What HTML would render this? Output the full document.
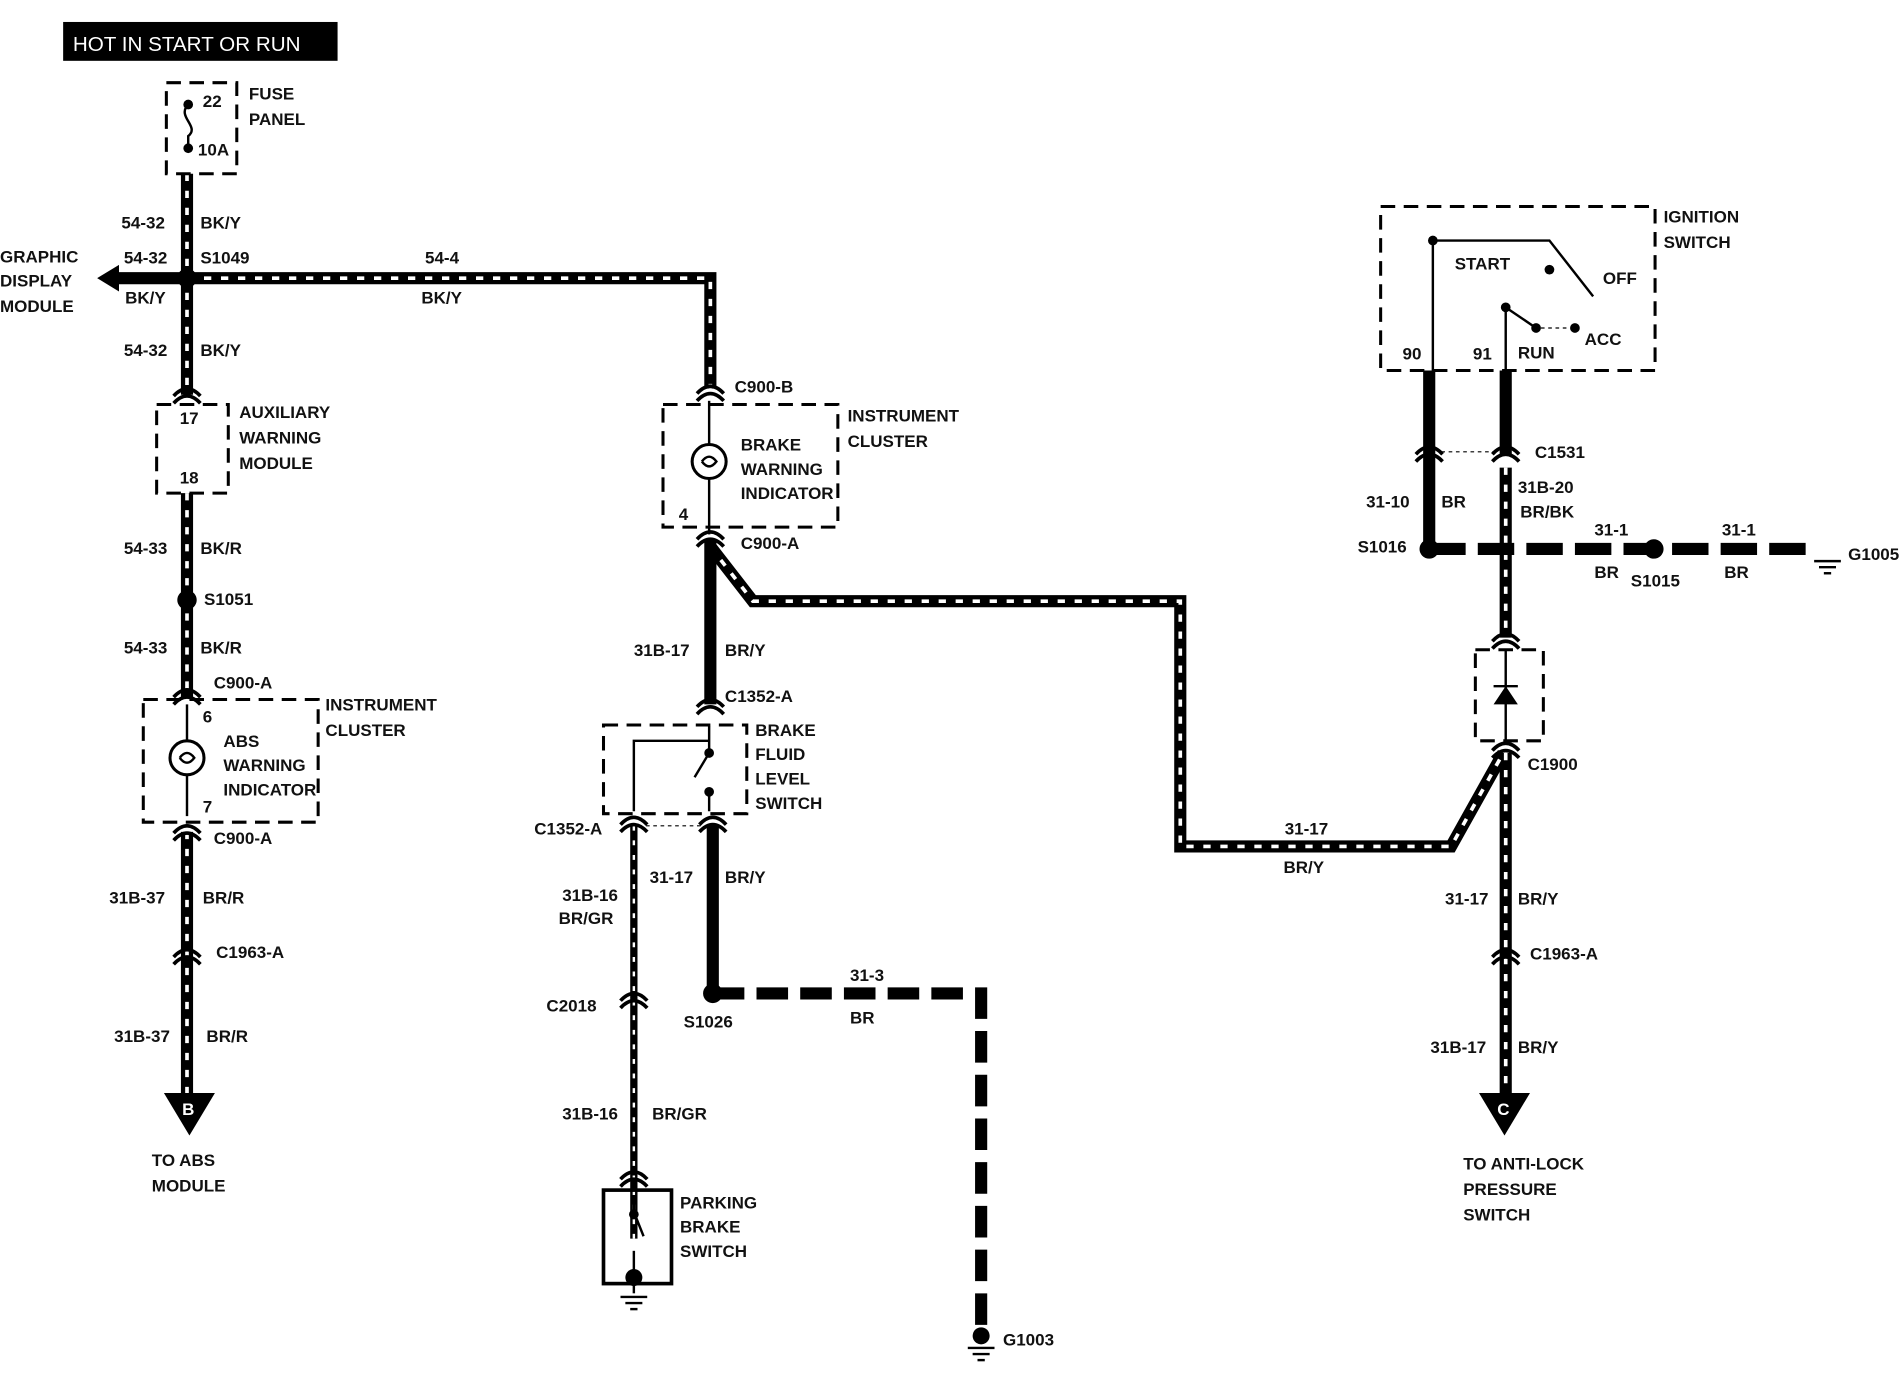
<!DOCTYPE html>
<html><head><meta charset="utf-8"><style>
html,body{margin:0;padding:0;background:#fff;}
svg{display:block;}
text{font-family:"Liberation Sans",sans-serif;font-weight:bold;font-size:14px;fill:#111;}
</style></head><body>
<svg width="1904" height="1376" viewBox="0 0 1568 1133" xmlns="http://www.w3.org/2000/svg">
<defs>
<g id="gnd"><line x1="-11" y1="0" x2="11" y2="0" stroke="#000" stroke-width="2"/><line x1="-7" y1="5" x2="7" y2="5" stroke="#000" stroke-width="2"/><line x1="-3" y1="10" x2="3" y2="10" stroke="#000" stroke-width="2"/></g>
<g id="con"><path d="M-11,6 Q0,-6 11,6" fill="none" stroke="#000" stroke-width="3"/><path d="M-11,12 Q0,0 11,12" fill="none" stroke="#000" stroke-width="3"/></g>
</defs>
<g fill="none">
<!-- striped wires -->
<g stroke="#000" stroke-width="10">
<path d="M154,143 V325"/><path d="M154,229 H585 V320"/><path d="M154,406 V575"/><path d="M154,685 V900"/>
<path d="M585,450 L620,495 H972 V697 H1195 L1238,620"/>
<path d="M1240,385 V525"/><path d="M1240,620 V900"/>
</g>
<g stroke="#000" stroke-width="6"><path d="M522,680 V1020"/></g>
<g stroke="#fff" stroke-width="3" stroke-dasharray="6 8">
<path d="M154,143 V325"/><path d="M154,229 H585 V320"/><path d="M154,406 V485"/><path d="M154,505 V575"/><path d="M154,685 V900"/>
<path d="M585,450 L620,495 H972 V697 H1195 L1238,620"/>
<path d="M1240,385 V525"/><path d="M1240,620 V900"/>
</g>
<g stroke="#fff" stroke-width="2" stroke-dasharray="4 8"><path d="M522,680 V1020"/></g>
<!-- solid wires -->
<g stroke="#000" stroke-width="10">
<path d="M585,445 V580"/><path d="M587,680 V818"/>
<path d="M1177,305 V452"/><path d="M1240,305 V375"/>
</g>
<path d="M587,818 H808 V1095" stroke="#000" stroke-width="10" stroke-dasharray="26 10"/>
<path d="M1177,452 H1495" stroke="#000" stroke-width="10" stroke-dasharray="30 10"/>
<!-- arrow left -->
<path d="M80,229 L98,218 L98,240 Z" fill="#000"/><line x1="95" y1="229" x2="150" y2="229" stroke="#000" stroke-width="10"/>
<!-- dashed boxes -->
<g stroke="#000" stroke-width="2.5" stroke-dasharray="12 7">
<rect x="137" y="68" width="58" height="75"/>
<rect x="129" y="333" width="59" height="73"/>
<rect x="118" y="576" width="144" height="101"/>
<rect x="546" y="333" width="144" height="101"/>
<rect x="497" y="597" width="118" height="73"/>
<rect x="1137" y="170" width="226" height="135"/>
<rect x="1215" y="535" width="56" height="75"/>
</g>
<rect x="497" y="980" width="56" height="77" stroke="#000" stroke-width="3"/>
<!-- fuse -->
<circle cx="155" cy="86" r="4" fill="#000"/><circle cx="155" cy="122" r="4" fill="#000"/>
<path d="M155,86 C145,96 165,104 155,112 L155,122" stroke="#000" stroke-width="2"/>
<!-- lamps -->
<circle cx="154" cy="624" r="14" stroke="#000" stroke-width="2.5"/><path d="M148,624 q6,-8 12,0 q-6,8 -12,0" stroke="#000" stroke-width="2"/>
<line x1="154" y1="580" x2="154" y2="610" stroke="#000" stroke-width="2"/><line x1="154" y1="638" x2="154" y2="672" stroke="#000" stroke-width="2"/>
<circle cx="584" cy="380" r="14" stroke="#000" stroke-width="2.5"/><path d="M578,380 q6,-8 12,0 q-6,8 -12,0" stroke="#000" stroke-width="2"/>
<line x1="584" y1="330" x2="584" y2="366" stroke="#000" stroke-width="2"/><line x1="584" y1="394" x2="584" y2="440" stroke="#000" stroke-width="2"/>
<!-- fluid switch -->
<g stroke="#000" stroke-width="2"><path d="M584,598 V620 L572,640"/><path d="M584,650 V668"/><path d="M584,610 H522 V668"/></g>
<circle cx="584" cy="620" r="4" fill="#000"/><circle cx="584" cy="652" r="4" fill="#000"/>
<line x1="532" y1="680" x2="577" y2="680" stroke="#000" stroke-dasharray="3 3"/>
<!-- parking switch -->
<g stroke="#000" stroke-width="2"><path d="M522,985 V998 L530,1018"/><path d="M522,1030 V1065"/></g>
<circle cx="522" cy="1000" r="4" fill="#000"/><circle cx="522" cy="1052" r="7" fill="#000"/>
<!-- ignition switch internals -->
<g stroke="#000" stroke-width="2"><path d="M1180,198 V305"/><path d="M1180,198 H1276 L1312,244"/><path d="M1240,253 V305"/><path d="M1240,253 L1265,270"/></g>
<circle cx="1180" cy="198" r="4" fill="#000"/><circle cx="1276" cy="222" r="4" fill="#000"/><circle cx="1240" cy="253" r="4" fill="#000"/>
<circle cx="1265" cy="270" r="4" fill="#000"/><circle cx="1297" cy="270" r="4" fill="#000"/>
<path d="M1269,270 H1293" stroke="#000" stroke-dasharray="3 3"/>
<line x1="1187" y1="372" x2="1230" y2="372" stroke="#000" stroke-dasharray="3 3"/>
<!-- diode -->
<g stroke="#000" stroke-width="2"><path d="M1240,535 V610"/><path d="M1230,565 H1250"/></g>
<path d="M1230,580 L1250,580 L1240,565 Z" fill="#000"/>
</g>
<!-- connectors -->
<use href="#con" x="154" y="320"/><use href="#con" x="154" y="568"/><use href="#con" x="154" y="680"/><use href="#con" x="154" y="782"/>
<use href="#con" x="585" y="318"/><use href="#con" x="585" y="438"/><use href="#con" x="585" y="576"/><use href="#con" x="522" y="673"/><use href="#con" x="587" y="673"/>
<use href="#con" x="522" y="818"/><use href="#con" x="522" y="965"/>
<use href="#con" x="1177" y="368"/><use href="#con" x="1240" y="368"/><use href="#con" x="1240" y="522"/><use href="#con" x="1240" y="612"/><use href="#con" x="1240" y="782"/>
<!-- dots -->
<g fill="#000"><circle cx="154" cy="229" r="8"/><circle cx="154" cy="494" r="8"/><circle cx="587" cy="818" r="8"/><circle cx="1177" cy="452" r="8"/><circle cx="1362" cy="452" r="8"/><circle cx="808" cy="1100" r="7"/></g>
<use href="#gnd" x="808" y="1110"/><use href="#gnd" x="1505" y="462"/><use href="#gnd" x="522" y="1068"/>
<!-- triangles -->
<path d="M135,900 L177,900 L156,935 Z" fill="#000"/><text x="150" y="918" style="fill:#fff">B</text>
<path d="M1218,900 L1260,900 L1239,935 Z" fill="#000"/><text x="1233" y="918" style="fill:#fff">C</text>
<!-- title -->
<rect x="52" y="18" width="226" height="32" fill="#000"/>
<text x="60" y="42" style="fill:#fff;font-size:17px;font-weight:normal">HOT IN START OR RUN</text>
<!-- labels -->
<text x="167" y="88">22</text><text x="163" y="128">10A</text>
<text x="205" y="82">FUSE</text><text x="205" y="103">PANEL</text>
<text x="100" y="188">54-32</text><text x="165" y="188">BK/Y</text>
<text x="0" y="216">GRAPHIC</text><text x="0" y="236">DISPLAY</text><text x="0" y="257">MODULE</text>
<text x="102" y="217">54-32</text><text x="165" y="217">S1049</text><text x="103" y="250">BK/Y</text>
<text x="350" y="217">54-4</text><text x="347" y="250">BK/Y</text>
<text x="102" y="293">54-32</text><text x="165" y="293">BK/Y</text>
<text x="148" y="349">17</text><text x="148" y="398">18</text>
<text x="197" y="344">AUXILIARY</text><text x="197" y="365">WARNING</text><text x="197" y="386">MODULE</text>
<text x="102" y="456">54-33</text><text x="165" y="456">BK/R</text>
<text x="168" y="498">S1051</text>
<text x="102" y="538">54-33</text><text x="165" y="538">BK/R</text>
<text x="176" y="567">C900-A</text>
<text x="167" y="595">6</text><text x="167" y="669">7</text>
<text x="184" y="615">ABS</text><text x="184" y="635">WARNING</text><text x="184" y="655">INDICATOR</text>
<text x="268" y="585">INSTRUMENT</text><text x="268" y="606">CLUSTER</text>
<text x="176" y="695">C900-A</text>
<text x="90" y="744">31B-37</text><text x="167" y="744">BR/R</text>
<text x="178" y="789">C1963-A</text>
<text x="94" y="858">31B-37</text><text x="170" y="858">BR/R</text>
<text x="125" y="960">TO ABS</text><text x="125" y="981">MODULE</text>
<text x="605" y="323">C900-B</text>
<text x="698" y="347">INSTRUMENT</text><text x="698" y="368">CLUSTER</text>
<text x="610" y="371">BRAKE</text><text x="610" y="391">WARNING</text><text x="610" y="411">INDICATOR</text>
<text x="559" y="428">4</text><text x="610" y="452">C900-A</text>
<text x="522" y="540">31B-17</text><text x="597" y="540">BR/Y</text>
<text x="597" y="578">C1352-A</text>
<text x="622" y="606">BRAKE</text><text x="622" y="626">FLUID</text><text x="622" y="646">LEVEL</text><text x="622" y="666">SWITCH</text>
<text x="440" y="687">C1352-A</text>
<text x="463" y="742">31B-16</text><text x="460" y="761">BR/GR</text>
<text x="535" y="727">31-17</text><text x="597" y="727">BR/Y</text>
<text x="700" y="808">31-3</text><text x="700" y="843">BR</text>
<text x="450" y="833">C2018</text><text x="563" y="846">S1026</text>
<text x="463" y="922">31B-16</text><text x="537" y="922">BR/GR</text>
<text x="560" y="995">PARKING</text><text x="560" y="1015">BRAKE</text><text x="560" y="1035">SWITCH</text>
<text x="826" y="1108">G1003</text>
<text x="1058" y="687">31-17</text><text x="1057" y="719">BR/Y</text>
<text x="1370" y="183">IGNITION</text><text x="1370" y="204">SWITCH</text>
<text x="1198" y="222">START</text><text x="1320" y="234">OFF</text><text x="1305" y="284">ACC</text>
<text x="1250" y="295">RUN</text><text x="1155" y="296">90</text><text x="1213" y="296">91</text>
<text x="1264" y="377">C1531</text>
<text x="1125" y="418">31-10</text><text x="1187" y="418">BR</text>
<text x="1250" y="406">31B-20</text><text x="1252" y="426">BR/BK</text>
<text x="1118" y="455">S1016</text>
<text x="1313" y="441">31-1</text><text x="1313" y="476">BR</text><text x="1343" y="483">S1015</text>
<text x="1418" y="441">31-1</text><text x="1420" y="476">BR</text><text x="1522" y="461">G1005</text>
<text x="1258" y="634">C1900</text>
<text x="1190" y="745">31-17</text><text x="1250" y="745">BR/Y</text>
<text x="1260" y="790">C1963-A</text>
<text x="1178" y="867">31B-17</text><text x="1250" y="867">BR/Y</text>
<text x="1205" y="963">TO ANTI-LOCK</text><text x="1205" y="984">PRESSURE</text><text x="1205" y="1005">SWITCH</text>
</svg>
</body></html>
